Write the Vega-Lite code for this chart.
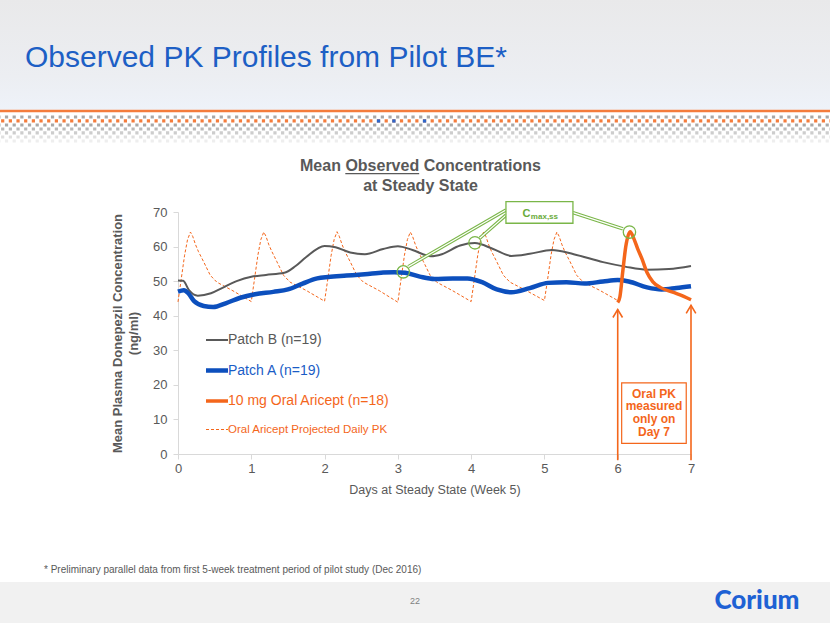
{
 "$schema": "https://vega.github.io/schema/vega-lite/v6.json",
 "width": 513,
 "height": 242,
 "autosize": {"type": "none"},
 "padding": {"left": 178, "top": 212, "right": 139, "bottom": 169},
 "background": "#ffffff",
 "config": {"font": "Liberation Sans", "view": {"stroke": null}, "axis": {"grid": false}},
 "datasets": {
  "pk": [
   {"series":"Oral Aricept Projected Daily PK","day":0,"conc":44.0},{"series":"Oral Aricept Projected Daily PK","day":0.04,"conc":50.0},{"series":"Oral Aricept Projected Daily PK","day":0.09,"conc":57.5},{"series":"Oral Aricept Projected Daily PK","day":0.13,"conc":62.0},{"series":"Oral Aricept Projected Daily PK","day":0.17,"conc":64.2},{"series":"Oral Aricept Projected Daily PK","day":0.2,"conc":63.0},{"series":"Oral Aricept Projected Daily PK","day":0.24,"conc":60.5},{"series":"Oral Aricept Projected Daily PK","day":0.28,"conc":58.5},{"series":"Oral Aricept Projected Daily PK","day":0.35,"conc":55.6},{"series":"Oral Aricept Projected Daily PK","day":0.44,"conc":51.7},{"series":"Oral Aricept Projected Daily PK","day":0.53,"conc":49.7},{"series":"Oral Aricept Projected Daily PK","day":0.75,"conc":47.2},
   {"series":"Oral Aricept Projected Daily PK","day":1.0,"conc":44.1},{"series":"Oral Aricept Projected Daily PK","day":1.04,"conc":50.0},{"series":"Oral Aricept Projected Daily PK","day":1.09,"conc":57.5},{"series":"Oral Aricept Projected Daily PK","day":1.13,"conc":62.0},{"series":"Oral Aricept Projected Daily PK","day":1.17,"conc":64.2},{"series":"Oral Aricept Projected Daily PK","day":1.2,"conc":63.0},{"series":"Oral Aricept Projected Daily PK","day":1.24,"conc":60.5},{"series":"Oral Aricept Projected Daily PK","day":1.28,"conc":58.6},{"series":"Oral Aricept Projected Daily PK","day":1.35,"conc":55.6},{"series":"Oral Aricept Projected Daily PK","day":1.44,"conc":51.7},{"series":"Oral Aricept Projected Daily PK","day":1.53,"conc":49.7},{"series":"Oral Aricept Projected Daily PK","day":1.75,"conc":47.3},
   {"series":"Oral Aricept Projected Daily PK","day":2.0,"conc":44.2},{"series":"Oral Aricept Projected Daily PK","day":2.04,"conc":50.0},{"series":"Oral Aricept Projected Daily PK","day":2.09,"conc":57.5},{"series":"Oral Aricept Projected Daily PK","day":2.13,"conc":62.0},{"series":"Oral Aricept Projected Daily PK","day":2.17,"conc":64.3},{"series":"Oral Aricept Projected Daily PK","day":2.2,"conc":63.0},{"series":"Oral Aricept Projected Daily PK","day":2.24,"conc":60.5},{"series":"Oral Aricept Projected Daily PK","day":2.28,"conc":58.5},{"series":"Oral Aricept Projected Daily PK","day":2.35,"conc":55.6},{"series":"Oral Aricept Projected Daily PK","day":2.44,"conc":51.7},{"series":"Oral Aricept Projected Daily PK","day":2.53,"conc":49.7},{"series":"Oral Aricept Projected Daily PK","day":2.75,"conc":47.2},
   {"series":"Oral Aricept Projected Daily PK","day":3.0,"conc":43.9},{"series":"Oral Aricept Projected Daily PK","day":3.04,"conc":50.0},{"series":"Oral Aricept Projected Daily PK","day":3.09,"conc":57.5},{"series":"Oral Aricept Projected Daily PK","day":3.13,"conc":62.0},{"series":"Oral Aricept Projected Daily PK","day":3.17,"conc":64.2},{"series":"Oral Aricept Projected Daily PK","day":3.2,"conc":63.0},{"series":"Oral Aricept Projected Daily PK","day":3.24,"conc":60.5},{"series":"Oral Aricept Projected Daily PK","day":3.28,"conc":58.5},{"series":"Oral Aricept Projected Daily PK","day":3.35,"conc":55.6},{"series":"Oral Aricept Projected Daily PK","day":3.44,"conc":51.7},{"series":"Oral Aricept Projected Daily PK","day":3.53,"conc":49.7},{"series":"Oral Aricept Projected Daily PK","day":3.75,"conc":47.2},
   {"series":"Oral Aricept Projected Daily PK","day":4.0,"conc":44.1},{"series":"Oral Aricept Projected Daily PK","day":4.04,"conc":50.0},{"series":"Oral Aricept Projected Daily PK","day":4.09,"conc":57.5},{"series":"Oral Aricept Projected Daily PK","day":4.13,"conc":62.0},{"series":"Oral Aricept Projected Daily PK","day":4.17,"conc":64.2},{"series":"Oral Aricept Projected Daily PK","day":4.2,"conc":63.0},{"series":"Oral Aricept Projected Daily PK","day":4.24,"conc":60.5},{"series":"Oral Aricept Projected Daily PK","day":4.28,"conc":58.5},{"series":"Oral Aricept Projected Daily PK","day":4.35,"conc":55.6},{"series":"Oral Aricept Projected Daily PK","day":4.44,"conc":51.7},{"series":"Oral Aricept Projected Daily PK","day":4.53,"conc":49.7},{"series":"Oral Aricept Projected Daily PK","day":4.75,"conc":47.3},
   {"series":"Oral Aricept Projected Daily PK","day":5.0,"conc":44.4},{"series":"Oral Aricept Projected Daily PK","day":5.04,"conc":50.0},{"series":"Oral Aricept Projected Daily PK","day":5.09,"conc":57.5},{"series":"Oral Aricept Projected Daily PK","day":5.13,"conc":62.0},{"series":"Oral Aricept Projected Daily PK","day":5.17,"conc":64.2},{"series":"Oral Aricept Projected Daily PK","day":5.2,"conc":63.0},{"series":"Oral Aricept Projected Daily PK","day":5.24,"conc":60.5},{"series":"Oral Aricept Projected Daily PK","day":5.28,"conc":58.5},{"series":"Oral Aricept Projected Daily PK","day":5.35,"conc":55.6},{"series":"Oral Aricept Projected Daily PK","day":5.44,"conc":51.7},{"series":"Oral Aricept Projected Daily PK","day":5.53,"conc":49.7},{"series":"Oral Aricept Projected Daily PK","day":5.75,"conc":47.4},{"series":"Oral Aricept Projected Daily PK","day":6.0,"conc":44.4},
   {"series":"Patch B (n=19)","day":0,"conc":50.2},{"series":"Patch B (n=19)","day":0.07,"conc":50.1},{"series":"Patch B (n=19)","day":0.15,"conc":47.4},{"series":"Patch B (n=19)","day":0.27,"conc":45.8},{"series":"Patch B (n=19)","day":0.45,"conc":46.5},{"series":"Patch B (n=19)","day":0.6,"conc":48.0},{"series":"Patch B (n=19)","day":0.8,"conc":50.0},{"series":"Patch B (n=19)","day":1.0,"conc":51.3},{"series":"Patch B (n=19)","day":1.2,"conc":51.8},{"series":"Patch B (n=19)","day":1.45,"conc":52.4},{"series":"Patch B (n=19)","day":1.6,"conc":54.3},{"series":"Patch B (n=19)","day":1.75,"conc":57.0},{"series":"Patch B (n=19)","day":2.0,"conc":60.2},{"series":"Patch B (n=19)","day":2.15,"conc":59.8},{"series":"Patch B (n=19)","day":2.35,"conc":58.3},{"series":"Patch B (n=19)","day":2.55,"conc":57.8},{"series":"Patch B (n=19)","day":2.8,"conc":59.3},{"series":"Patch B (n=19)","day":3.0,"conc":60.1},{"series":"Patch B (n=19)","day":3.2,"conc":59.0},{"series":"Patch B (n=19)","day":3.45,"conc":57.2},{"series":"Patch B (n=19)","day":3.6,"conc":57.8},{"series":"Patch B (n=19)","day":3.85,"conc":60.3},{"series":"Patch B (n=19)","day":4.05,"conc":61.0},{"series":"Patch B (n=19)","day":4.3,"conc":59.3},{"series":"Patch B (n=19)","day":4.55,"conc":57.3},{"series":"Patch B (n=19)","day":4.8,"conc":57.9},{"series":"Patch B (n=19)","day":5.1,"conc":59.0},{"series":"Patch B (n=19)","day":5.4,"conc":57.8},{"series":"Patch B (n=19)","day":5.8,"conc":55.5},{"series":"Patch B (n=19)","day":6.1,"conc":54.2},{"series":"Patch B (n=19)","day":6.4,"conc":53.3},{"series":"Patch B (n=19)","day":6.7,"conc":53.5},{"series":"Patch B (n=19)","day":7.0,"conc":54.4},
   {"series":"Patch A (n=19)","day":0,"conc":47.0},{"series":"Patch A (n=19)","day":0.08,"conc":47.4},{"series":"Patch A (n=19)","day":0.14,"conc":46.5},{"series":"Patch A (n=19)","day":0.22,"conc":44.2},{"series":"Patch A (n=19)","day":0.35,"conc":42.8},{"series":"Patch A (n=19)","day":0.48,"conc":42.5},{"series":"Patch A (n=19)","day":0.65,"conc":43.6},{"series":"Patch A (n=19)","day":0.85,"conc":45.2},{"series":"Patch A (n=19)","day":1.05,"conc":46.2},{"series":"Patch A (n=19)","day":1.3,"conc":46.9},{"series":"Patch A (n=19)","day":1.5,"conc":47.6},{"series":"Patch A (n=19)","day":1.7,"conc":49.3},{"series":"Patch A (n=19)","day":1.9,"conc":50.8},{"series":"Patch A (n=19)","day":2.05,"conc":51.2},{"series":"Patch A (n=19)","day":2.3,"conc":51.6},{"series":"Patch A (n=19)","day":2.55,"conc":52.0},{"series":"Patch A (n=19)","day":2.8,"conc":52.5},{"series":"Patch A (n=19)","day":2.95,"conc":52.6},{"series":"Patch A (n=19)","day":3.1,"conc":52.4},{"series":"Patch A (n=19)","day":3.3,"conc":51.3},{"series":"Patch A (n=19)","day":3.5,"conc":50.6},{"series":"Patch A (n=19)","day":3.75,"conc":50.8},{"series":"Patch A (n=19)","day":3.95,"conc":50.8},{"series":"Patch A (n=19)","day":4.15,"conc":49.7},{"series":"Patch A (n=19)","day":4.35,"conc":47.6},{"series":"Patch A (n=19)","day":4.55,"conc":46.8},{"series":"Patch A (n=19)","day":4.8,"conc":48.0},{"series":"Patch A (n=19)","day":5.05,"conc":49.5},{"series":"Patch A (n=19)","day":5.3,"conc":49.7},{"series":"Patch A (n=19)","day":5.55,"conc":49.3},{"series":"Patch A (n=19)","day":5.8,"conc":49.9},{"series":"Patch A (n=19)","day":6.0,"conc":50.3},{"series":"Patch A (n=19)","day":6.15,"conc":49.9},{"series":"Patch A (n=19)","day":6.4,"conc":48.2},{"series":"Patch A (n=19)","day":6.6,"conc":47.6},{"series":"Patch A (n=19)","day":6.8,"conc":48.0},{"series":"Patch A (n=19)","day":7.0,"conc":48.5},
   {"series":"10 mg Oral Aricept (n=18)","day":6.0,"conc":43.8},{"series":"10 mg Oral Aricept (n=18)","day":6.03,"conc":45.5},{"series":"10 mg Oral Aricept (n=18)","day":6.07,"conc":53.0},{"series":"10 mg Oral Aricept (n=18)","day":6.11,"conc":60.0},{"series":"10 mg Oral Aricept (n=18)","day":6.17,"conc":64.3},{"series":"10 mg Oral Aricept (n=18)","day":6.22,"conc":62.3},{"series":"10 mg Oral Aricept (n=18)","day":6.27,"conc":59.5},{"series":"10 mg Oral Aricept (n=18)","day":6.33,"conc":56.5},{"series":"10 mg Oral Aricept (n=18)","day":6.4,"conc":52.5},{"series":"10 mg Oral Aricept (n=18)","day":6.48,"conc":49.8},{"series":"10 mg Oral Aricept (n=18)","day":6.58,"conc":48.2},{"series":"10 mg Oral Aricept (n=18)","day":6.75,"conc":46.8},{"series":"10 mg Oral Aricept (n=18)","day":6.9,"conc":45.6},{"series":"10 mg Oral Aricept (n=18)","day":7.0,"conc":44.6}
  ]
 },
 "encoding": {
  "x": {"field": "day", "type": "quantitative", "scale": {"domain": [0, 7], "nice": false},
   "axis": {"values": [0,1,2,3,4,5,6,7], "title": "Days at Steady State (Week 5)", "labelFontSize": 13, "labelColor": "#595959", "domainColor": "#d9d9d9", "tickColor": "#d9d9d9", "tickSize": 5, "labelPadding": 3, "labelFlush": false, "titleFontSize": 12.5, "titleFontWeight": "normal", "titleColor": "#595959", "titlePadding": 8}},
  "y": {"field": "conc", "type": "quantitative", "scale": {"domain": [0, 70], "nice": false},
   "axis": {"values": [0,10,20,30,40,50,60,70], "title": ["Mean Plasma Donepezil Concentration", "(ng/ml)"], "labelFontSize": 13, "labelColor": "#595959", "domainColor": "#d9d9d9", "tickColor": "#d9d9d9", "tickSize": 5, "labelPadding": 6, "titleFontSize": 13, "titleFontWeight": "bold", "titleColor": "#595959", "titlePadding": 12, "titleLineHeight": 16}}
 },
 "layer": [
  {"data": {"values": [{"day": -2.4289, "day2": 9.0, "conc": 131.5, "conc2": 99.6}]},
   "mark": {"type": "rect", "fill": {"gradient": "linear", "x1": 0, "y1": 0, "x2": 0, "y2": 1, "stops": [{"offset": 0, "color": "#e9e9ea"}, {"offset": 0.7, "color": "#eceef2"}, {"offset": 1, "color": "#eef2f9"}]}},
   "encoding": {"x2": {"field": "day2"}, "y2": {"field": "conc2"}}},
  {"data": {"values": [{"day": -2.4289, "day2": 9.0, "conc": -37.0, "conc2": -50.0}]},
   "mark": {"type": "rect", "fill": "#f1f1f1"},
   "encoding": {"x2": {"field": "day2"}, "y2": {"field": "conc2"}}},
  {"data": {"values": [{"day": -2.4289, "day2": 9.0, "conc": 99.2}]},
   "mark": {"type": "rule", "stroke": "#f47c3c", "strokeWidth": 2.5},
   "encoding": {"x2": {"field": "day2"}}},
  {"data": {"values": [{"day": -2.4289, "day2": 9.0, "conc": 97.48}, {"day": -2.4289, "day2": 9.0, "conc": 95.17}]},
   "mark": {"type": "rule", "stroke": "#a8a8a8", "strokeWidth": 3.2, "strokeDash": [3.2, 4.47], "strokeDashOffset": 2.74},
   "encoding": {"x2": {"field": "day2"}}},
  {"data": {"values": [{"day": -2.4289, "day2": 9.0, "conc": 96.33}]},
   "mark": {"type": "rule", "stroke": "#f47c3c", "strokeWidth": 3.2, "strokeDash": [3.2, 4.47], "strokeDashOffset": 6.57},
   "encoding": {"x2": {"field": "day2"}}},
  {"data": {"values": [{"day": -2.4289, "day2": 9.0, "conc": 94.01}]},
   "mark": {"type": "rule", "stroke": "#b9b9b9", "strokeWidth": 3.2, "strokeDash": [3.2, 4.47], "strokeDashOffset": 6.57},
   "encoding": {"x2": {"field": "day2"}}},
  {"data": {"values": [{"day": -2.4289, "day2": 9.0, "conc": 92.86}]},
   "mark": {"type": "rule", "stroke": "#cdcdcd", "strokeWidth": 3.2, "strokeDash": [3.2, 4.47], "strokeDashOffset": 2.74},
   "encoding": {"x2": {"field": "day2"}}},
  {"data": {"values": [{"day": -2.4289, "day2": 9.0, "conc": 91.70}]},
   "mark": {"type": "rule", "stroke": "#dfdfdf", "strokeWidth": 3.2, "strokeDash": [3.2, 4.47], "strokeDashOffset": 6.57},
   "encoding": {"x2": {"field": "day2"}}},
  {"data": {"values": [{"day": -2.4289, "day2": 9.0, "conc": 90.54}]},
   "mark": {"type": "rule", "stroke": "#eeeeee", "strokeWidth": 3.2, "strokeDash": [3.2, 4.47], "strokeDashOffset": 2.74},
   "encoding": {"x2": {"field": "day2"}}},
  {"data": {"values": [{"day": 2.736, "conc": 96.33}, {"day": 2.946, "conc": 96.33}, {"day": 3.364, "conc": 96.33}]},
   "mark": {"type": "point", "shape": "square", "filled": true, "size": 11, "fill": "#2e66c9", "opacity": 1}},
  {"data": {"values": [{"day": -2.088, "conc": 112.03, "label": "Observed PK Profiles from Pilot BE*"}]},
   "mark": {"type": "text", "align": "left", "baseline": "alphabetic", "fontSize": 30, "fill": "#1d5fc5"},
   "encoding": {"text": {"field": "label"}}},
  {"data": {"values": [{"day": 3.309, "conc": 81.72, "label": "Mean Observed Concentrations"}, {"day": 3.309, "conc": 75.93, "label": "at Steady State"}]},
   "mark": {"type": "text", "align": "center", "baseline": "alphabetic", "fontSize": 16, "fontWeight": "bold", "fill": "#595959"},
   "encoding": {"text": {"field": "label"}}},
  {"data": {"values": [{"day": 2.283, "day2": 3.291, "conc": 81.1}]},
   "mark": {"type": "rule", "stroke": "#595959", "strokeWidth": 1.3},
   "encoding": {"x2": {"field": "day2"}}},
  {"data": {"name": "pk"},
   "encoding": {"color": {"field": "series", "type": "nominal",
     "scale": {"domain": ["Patch B (n=19)", "Patch A (n=19)", "10 mg Oral Aricept (n=18)", "Oral Aricept Projected Daily PK"], "range": ["#595959", "#0c4fbd", "#f4661b", "#f4661b"]},
     "legend": {"orient": "none", "legendX": 32, "legendY": 121, "title": null, "symbolType": "stroke", "symbolSize": 484, "labelFontSize": 14, "labelOffset": 4, "labelLimit": 400, "rowPadding": 14.5, "padding": 0,
      "encode": {
       "labels": {"update": {
        "fill": {"signal": "datum.value === 'Patch B (n=19)' ? '#595959' : datum.value === 'Patch A (n=19)' ? '#1a5cc6' : '#f4661b'"},
        "fontSize": {"signal": "datum.value === 'Oral Aricept Projected Daily PK' ? 11.5 : 14"}}},
       "symbols": {"update": {
        "strokeWidth": {"signal": "datum.value === 'Patch A (n=19)' ? 4.5 : datum.value === 'Patch B (n=19)' ? 2 : datum.value === '10 mg Oral Aricept (n=18)' ? 3.5 : 1"},
        "strokeDash": {"signal": "datum.value === 'Oral Aricept Projected Daily PK' ? [3, 2] : [1, 0]"}}}}}}},
   "layer": [
    {"transform": [{"filter": "datum.series === 'Oral Aricept Projected Daily PK'"}], "mark": {"type": "line", "strokeWidth": 1, "strokeDash": [3, 2], "interpolate": "linear"}},
    {"transform": [{"filter": "datum.series === 'Patch B (n=19)'"}], "mark": {"type": "line", "strokeWidth": 2, "interpolate": "monotone"}},
    {"transform": [{"filter": "datum.series === 'Patch A (n=19)'"}], "mark": {"type": "line", "strokeWidth": 4.5, "interpolate": "monotone"}},
    {"transform": [{"filter": "datum.series === '10 mg Oral Aricept (n=18)'"}], "mark": {"type": "line", "strokeWidth": 3.5, "interpolate": "monotone"}}
   ]},
  {"data": {"values": [{"day": 4.475, "conc": 70.6, "day2": 3.142, "conc2": 54.2}, {"day": 4.475, "conc": 69.1, "day2": 4.12, "conc2": 62.5}, {"day": 5.389, "conc": 69.8, "day2": 6.072, "conc2": 65.1}]},
   "mark": {"type": "rule", "stroke": "#7ab648", "strokeWidth": 3.4},
   "encoding": {"x2": {"field": "day2"}, "y2": {"field": "conc2"}}},
  {"data": {"values": [{"day": 4.475, "conc": 70.6, "day2": 3.142, "conc2": 54.2}, {"day": 4.475, "conc": 69.1, "day2": 4.12, "conc2": 62.5}, {"day": 5.389, "conc": 69.8, "day2": 6.072, "conc2": 65.1}]},
   "mark": {"type": "rule", "stroke": "#ffffff", "strokeWidth": 1.2},
   "encoding": {"x2": {"field": "day2"}, "y2": {"field": "conc2"}}},
  {"data": {"values": [{"day": 4.475, "day2": 5.389, "conc": 73.0, "conc2": 66.75}]},
   "mark": {"type": "rect", "fill": "#ffffff", "stroke": "#7ab648", "strokeWidth": 1.3},
   "encoding": {"x2": {"field": "day2"}, "y2": {"field": "conc2"}}},
  {"data": {"values": [{"day": 4.70, "conc": 68.5, "label": "C"}]},
   "mark": {"type": "text", "align": "left", "baseline": "alphabetic", "fontSize": 11, "fontWeight": "bold", "fill": "#6aab3b"},
   "encoding": {"text": {"field": "label"}}},
  {"data": {"values": [{"day": 4.815, "conc": 68.0, "label": "max,ss"}]},
   "mark": {"type": "text", "align": "left", "baseline": "alphabetic", "fontSize": 8, "fontWeight": "bold", "fill": "#6aab3b"},
   "encoding": {"text": {"field": "label"}}},
  {"data": {"values": [{"day": 3.074, "conc": 52.7}, {"day": 4.052, "conc": 61.1}, {"day": 6.16, "conc": 64.2}]},
   "mark": {"type": "point", "filled": false, "size": 154, "stroke": "#7ab648", "strokeWidth": 1.3, "opacity": 1}},
  {"data": {"values": [{"day": 6, "conc": -1.8, "conc2": 41.8}, {"day": 7, "conc": -1.8, "conc2": 43.0}]},
   "mark": {"type": "rule", "stroke": "#f4661b", "strokeWidth": 1.6},
   "encoding": {"y2": {"field": "conc2"}}},
  {"data": {"values": [{"day": 6, "conc": 41.8}, {"day": 7, "conc": 43.0}]},
   "mark": {"type": "point", "shape": "M-0.6,1L0,0L0.6,1", "filled": false, "size": 256, "stroke": "#f4661b", "strokeWidth": 1.6, "opacity": 1}},
  {"data": {"values": [{"day": 6.054, "day2": 6.935, "conc": 20.6, "conc2": 3.1}]},
   "mark": {"type": "rect", "fill": "#ffffff", "stroke": "#f4661b", "strokeWidth": 1.2},
   "encoding": {"x2": {"field": "day2"}, "y2": {"field": "conc2"}}},
  {"data": {"values": [{"day": 6.495, "conc": 17.5, "label": "Oral PK\nmeasured\nonly on\nDay 7"}]},
   "mark": {"type": "text", "align": "center", "baseline": "middle", "lineBreak": "\n", "lineHeight": 12.8, "fontSize": 12, "fontWeight": "bold", "fill": "#f4661b"},
   "encoding": {"text": {"field": "label"}}},
  {"data": {"values": [{"day": -1.829, "conc": -33.55, "label": "* Preliminary parallel data from first 5-week treatment period of pilot study (Dec 2016)"}]},
   "mark": {"type": "text", "align": "left", "baseline": "middle", "fontSize": 10, "fill": "#595959"},
   "encoding": {"text": {"field": "label"}}},
  {"data": {"values": [{"day": 3.234, "conc": -42.52, "label": "22"}]},
   "mark": {"type": "text", "align": "center", "baseline": "middle", "fontSize": 9, "fill": "#7f7f7f"},
   "encoding": {"text": {"field": "label"}}},
  {"data": {"values": [{"day": 7.9006, "conc": -42.52, "label": "Corium"}]},
   "mark": {"type": "text", "align": "center", "baseline": "middle", "font": "Lato", "fontSize": 26, "fontWeight": 900, "fill": "#1e61d4"},
   "encoding": {"text": {"field": "label"}}}
 ]
}
